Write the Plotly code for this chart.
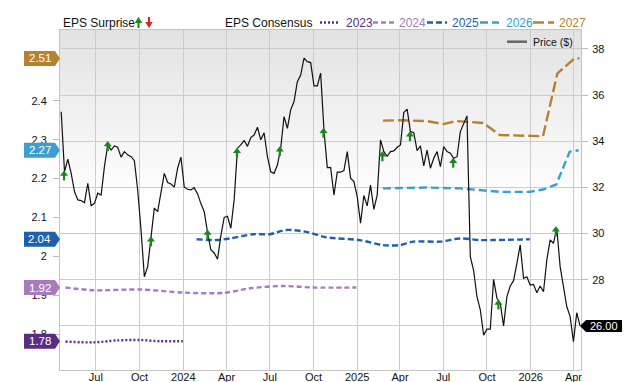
import base64
import pandas as pd
import plotly.graph_objects as go

# ---------------- data ----------------
price_start = "2023-04-19"
price = [35.28, 32.68, 33.22, 32.61, 31.82, 31.46, 31.43, 31.34, 32.18, 31.21,
         31.31, 31.75, 31.67, 32.90, 33.84, 33.62, 33.80, 33.74, 33.31, 33.55,
         33.41, 33.33, 33.16, 31.89, 30.16, 28.13, 28.57, 29.72, 31.10, 30.95,
         31.75, 32.61, 32.21, 32.15, 32.01, 32.83, 33.31, 32.01, 31.92, 31.89,
         31.99, 31.72, 31.30, 30.95, 30.05, 29.30, 29.16, 28.89, 29.90, 30.70,
         30.75, 30.23, 31.46, 33.70, 33.84, 34.03, 33.78, 34.16, 34.27, 34.61,
         34.06, 34.37, 33.33, 32.68, 32.61, 32.97, 33.70, 35.07, 34.56, 35.36,
         35.72, 36.58, 36.87, 37.60, 37.45, 37.41, 36.40, 36.40, 36.95, 34.49,
         32.86, 32.87, 31.67, 32.66, 32.66, 32.73, 33.55, 32.40, 32.25, 31.60,
         30.45, 31.65, 31.20, 32.10, 31.05, 31.67, 34.06, 33.55, 33.35, 33.55,
         33.58, 33.74, 33.84, 35.24, 35.39, 34.42, 34.37, 33.59, 33.80, 32.93,
         33.62, 32.83, 33.26, 33.55, 32.90, 33.77, 33.55, 33.48, 33.26, 33.33,
         34.42, 34.78, 35.10, 29.00, 28.40, 27.27, 26.70, 25.60, 25.86, 25.86,
         28.02, 27.20, 26.98, 26.00, 27.27, 27.73, 27.96, 28.71, 29.51, 28.06,
         28.13, 27.77, 27.80, 27.44, 27.73, 27.48, 28.86, 29.73, 29.58, 30.23,
         28.57, 27.70, 26.84, 26.40, 25.32, 26.57, 26.00]
price_dates = pd.date_range(price_start, periods=len(price), freq="7D")

surprise_dates = ["2023-04-25", "2023-07-26", "2023-10-25", "2024-02-21", "2024-04-23",
                  "2024-07-22", "2024-10-22", "2025-02-23", "2025-04-22", "2025-07-22",
                  "2025-10-25", "2026-02-23"]
surprise_price = [32.50, 33.77, 29.65, 29.94, 33.48, 33.55, 34.35, 33.33, 34.20, 33.05,
                  26.91, 30.08]

c2023_dates = ["2023-04-28", "2023-06-26", "2023-08-14", "2023-10-02", "2023-11-13", "2023-12-31"]
c2023_vals = [1.781, 1.779, 1.784, 1.785, 1.782, 1.782]

c2024_dates = ["2023-04-28", "2023-06-26", "2023-10-02", "2024-01-01", "2024-03-25",
               "2024-05-20", "2024-07-29", "2024-09-30", "2024-12-30"]
c2024_vals = [1.920, 1.913, 1.915, 1.907, 1.906, 1.918, 1.924, 1.920, 1.920]

c2025_dates = ["2024-01-29", "2024-03-11", "2024-04-08", "2024-05-27", "2024-07-01",
               "2024-08-05", "2024-09-16", "2024-10-28", "2025-01-06", "2025-02-24",
               "2025-04-01", "2025-04-29", "2025-06-24", "2025-08-05", "2025-09-16",
               "2025-10-14", "2025-12-30"]
c2025_vals = [2.044, 2.042, 2.046, 2.057, 2.057, 2.068, 2.063, 2.049, 2.042, 2.029,
              2.029, 2.038, 2.038, 2.046, 2.042, 2.042, 2.044]

c2026_dates = ["2025-02-24", "2025-05-27", "2025-08-05", "2025-10-28", "2025-12-30",
               "2026-01-27", "2026-02-24", "2026-03-24", "2026-04-12"]
c2026_vals = [2.175, 2.177, 2.175, 2.166, 2.166, 2.172, 2.185, 2.269, 2.273]

c2027_dates = ["2025-02-24", "2025-04-01", "2025-05-27", "2025-07-01", "2025-07-29",
               "2025-09-23", "2025-10-28", "2026-01-27", "2026-02-26", "2026-04-03",
               "2026-04-14"]
c2027_vals = [2.349, 2.350, 2.348, 2.340, 2.348, 2.343, 2.312, 2.309, 2.470, 2.509, 2.509]

tick_dates = ["2023-07-01", "2023-10-01", "2024-01-01", "2024-04-01", "2024-07-01",
              "2024-10-01", "2025-01-01", "2025-04-01", "2025-07-01", "2025-10-01",
              "2026-01-01", "2026-04-01"]
tick_text = ["Jul", "Oct", "2024", "Apr", "Jul", "Oct", "2025", "Apr", "Jul", "Oct", "2026", "Apr"]

eps_ticks = [1.8, 1.9, 2.0, 2.1, 2.2, 2.3, 2.4]
eps_ticktext = ["1.8", "1.9", "2", "2.1", "2.2", "2.3", "2.4"]
price_ticks = [26, 28, 30, 32, 34, 36, 38]

series = [
    ("2023", c2023_dates, c2023_vals, "#5c2c80", "2px,2px", "spline"),
    ("2024", c2024_dates, c2024_vals, "#a77cbf", "5px,3px", "spline"),
    ("2025", c2025_dates, c2025_vals, "#1f5fab", "6px,3px", "spline"),
    ("2026", c2026_dates, c2026_vals, "#3a9fcf", "8px,4px", "linear"),
    ("2027", c2027_dates, c2027_vals, "#b7822f", "11px,4px", "linear"),
]

# ---------------- layout constants ----------------
W, H = 640, 382
ML, MR, MT, MB = 60, 59, 30, 12
PW, PH = W - ML - MR, H - MT - MB
EPS_RANGE = [1.708, 2.582]
PRICE_RANGE = [24.09, 38.82]
X_RANGE = ["2023-04-16 12:00", "2026-04-16 22:00"]
FONT = "Liberation Sans, Arial, Helvetica, sans-serif"
GREEN = "#17891b"
RED = "#e0221b"


def px(x):
    return (x - ML) / PW


def py(y):
    return (H - MB - y) / PH


def val2paper(v, rng):
    return (v - rng[0]) / (rng[1] - rng[0])


fig = go.Figure()

# consensus lines
for name, d, v, col, dash, shape in series:
    fig.add_trace(go.Scatter(x=d, y=v, mode="lines", yaxis="y",
                             line=dict(color=col, width=2.4, dash=dash, shape=shape,
                                       smoothing=0.8),
                             hoverinfo="skip", showlegend=False))

# price
fig.add_trace(go.Scatter(x=price_dates, y=price, mode="lines", yaxis="y2",
                         line=dict(color="#111111", width=1.2),
                         hoverinfo="skip", showlegend=False))

# surprise arrows
ppu = PH / (PRICE_RANGE[1] - PRICE_RANGE[0])
fig.add_trace(go.Scatter(
    x=surprise_dates, y=[p + 2.0 / ppu for p in surprise_price], mode="markers", yaxis="y2",
    marker=dict(symbol="triangle-up", size=7, color=GREEN, line=dict(width=0)),
    error_y=dict(type="data", symmetric=False, array=[0] * len(surprise_price),
                 arrayminus=[6.5 / ppu] * len(surprise_price), thickness=2.2, width=0,
                 color=GREEN),
    hoverinfo="skip", showlegend=False))

shapes = []
annotations = []

# left badges with last consensus value
hh = 7.5 / PH
for name, d, v, col, dash, shape in series:
    last = v[-1]
    yc = val2paper(last, EPS_RANGE)
    x0, x1, x2 = px(24), px(55), px(60)
    shapes.append(dict(type="path", xref="paper", yref="paper", layer="above",
                       path=f"M{x0},{yc-hh} L{x1},{yc-hh} L{x2},{yc} L{x1},{yc+hh} L{x0},{yc+hh} Z",
                       fillcolor=col, line=dict(width=0)))
    annotations.append(dict(x=px(39.5), y=yc, xref="paper", yref="paper", text=f"{last:.2f}",
                            showarrow=False, xanchor="center", yanchor="middle",
                            font=dict(family=FONT, size=11.5, color="white")))

# last price badge
last_p = price[-1]
yc = val2paper(last_p, PRICE_RANGE)
hh2 = 6 / PH
x0, x1, x2 = px(580), px(586), px(622)
shapes.append(dict(type="path", xref="paper", yref="paper", layer="above",
                   path=f"M{x0},{yc} L{x1},{yc-hh2} L{x2},{yc-hh2} L{x2},{yc+hh2} L{x1},{yc+hh2} Z",
                   fillcolor="#000000", line=dict(width=0)))
annotations.append(dict(x=px(604), y=yc, xref="paper", yref="paper", text=f"{last_p:.2f}",
                        showarrow=False, xanchor="center", yanchor="middle",
                        font=dict(family=FONT, size=11, color="white")))

# top legend
LY = 22.5
annotations.append(dict(x=px(60.5), y=py(LY), xref="paper", yref="paper", text="EPS Surprise",
                        showarrow=False, xanchor="left", yanchor="middle",
                        font=dict(family=FONT, size=12, color="#111111")))
annotations.append(dict(x=px(222.8), y=py(LY), xref="paper", yref="paper", text="EPS Consensus",
                        showarrow=False, xanchor="left", yanchor="middle",
                        font=dict(family=FONT, size=12, color="#111111")))
# legend arrows
gx = 138.5
shapes.append(dict(type="path", xref="paper", yref="paper", layer="above",
                   path=f"M{px(gx-3.7)},{py(23)} L{px(gx+3.7)},{py(23)} L{px(gx)},{py(17)} Z",
                   fillcolor=GREEN, line=dict(width=0)))
shapes.append(dict(type="rect", xref="paper", yref="paper", layer="above",
                   x0=px(gx-1), x1=px(gx+1), y0=py(28), y1=py(23),
                   fillcolor=GREEN, line=dict(width=0)))
rx = 149
shapes.append(dict(type="path", xref="paper", yref="paper", layer="above",
                   path=f"M{px(rx-3.7)},{py(22)} L{px(rx+3.7)},{py(22)} L{px(rx)},{py(28)} Z",
                   fillcolor=RED, line=dict(width=0)))
shapes.append(dict(type="rect", xref="paper", yref="paper", layer="above",
                   x0=px(rx-1), x1=px(rx+1), y0=py(22), y1=py(17),
                   fillcolor=RED, line=dict(width=0)))

leg_pos = [(320, 340, 344), (373, 394, 397), (427, 447, 450), (480, 499, 504), (533, 554, 557)]
for (name, d, v, col, dash, shape), (l0, l1, tx) in zip(series, leg_pos):
    shapes.append(dict(type="line", xref="paper", yref="paper", layer="above",
                       x0=px(l0), x1=px(l1), y0=py(LY), y1=py(LY),
                       line=dict(color=col, width=2.4, dash=dash)))
    annotations.append(dict(x=px(tx), y=py(LY), xref="paper", yref="paper", text=name,
                            showarrow=False, xanchor="left", yanchor="middle",
                            font=dict(family=FONT, size=12, color=col)))

# price legend inside plot
shapes.append(dict(type="line", xref="paper", yref="paper", layer="above",
                   x0=px(507), x1=px(527), y0=py(41.7), y1=py(41.7),
                   line=dict(color="#666666", width=2.5)))
annotations.append(dict(x=px(531), y=py(41.7), xref="paper", yref="paper", text="Price ($)",
                        showarrow=False, xanchor="left", yanchor="middle",
                        font=dict(family=FONT, size=10.5, color="#111111")))

# background gradient
svg = ('<svg xmlns="http://www.w3.org/2000/svg" width="100" height="100" viewBox="0 0 100 100" '
       'preserveAspectRatio="none"><defs><linearGradient id="g" x1="0" y1="0" x2="0" y2="1">'
       '<stop offset="0" stop-color="#e2e2e2"/><stop offset="0.5" stop-color="#ffffff"/>'
       '<stop offset="1" stop-color="#ffffff"/></linearGradient></defs>'
       '<rect width="100" height="100" fill="url(#g)"/></svg>')
src = "data:image/svg+xml;base64," + base64.b64encode(svg.encode()).decode()

fig.update_layout(
    width=W, height=H,
    margin=dict(l=ML, r=MR, t=MT, b=MB, pad=0, autoexpand=False),
    paper_bgcolor="white", plot_bgcolor="white",
    showlegend=False, hovermode=False,
    font=dict(family=FONT, size=11, color="#111111"),
    images=[dict(source=src, xref="paper", yref="paper", x=0, y=1, sizex=1, sizey=1,
                 xanchor="left", yanchor="top", sizing="stretch", layer="below")],
    xaxis=dict(type="date", range=X_RANGE, tickvals=tick_dates, ticktext=tick_text,
               showgrid=True, gridcolor="#cccccc", gridwidth=1, ticks="",
               showline=True, linecolor="#c4c4c4", linewidth=1, mirror=True,
               zeroline=False, tickfont=dict(size=11, color="#111111"),
               ticklabelstandoff=-3, fixedrange=True),
    yaxis=dict(range=EPS_RANGE, tickvals=eps_ticks, ticktext=eps_ticktext,
               showgrid=False, zeroline=False, ticks="outside", ticklen=6,
               tickcolor="#bbbbbb", showline=True, linecolor="#c4c4c4", mirror=True,
               tickfont=dict(size=11, color="#111111"), ticklabelstandoff=4,
               fixedrange=True),
    yaxis2=dict(range=PRICE_RANGE, overlaying="y", side="right", tickvals=price_ticks,
                ticktext=["" if t == 26 else str(t) for t in price_ticks],
                showgrid=True, gridcolor="#cccccc", gridwidth=1, zeroline=False,
                ticks="outside", ticklen=6, tickcolor="#bbbbbb", showline=True,
                linecolor="#c4c4c4", tickfont=dict(size=11, color="#111111"),
                ticklabelstandoff=2, fixedrange=True),
    shapes=shapes, annotations=annotations,
)

fig.write_html("out.html")
